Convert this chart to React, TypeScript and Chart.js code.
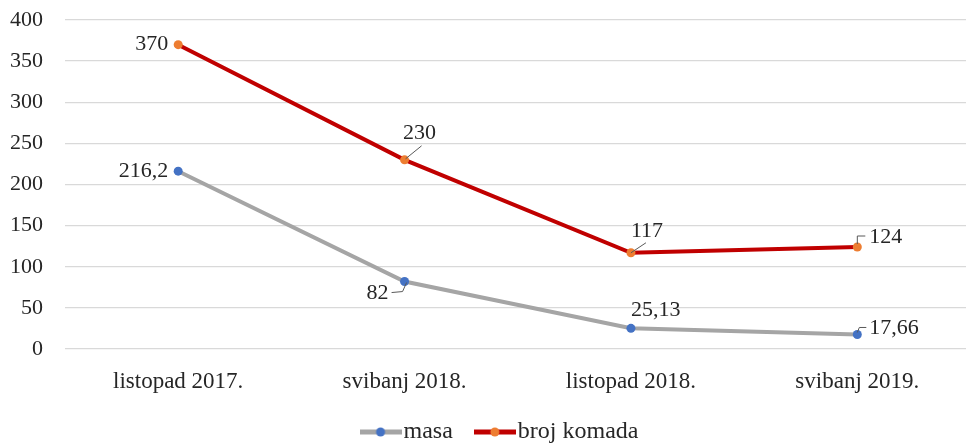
import React, { useEffect, useRef } from 'react';
import { Chart, registerables } from 'chart.js';

Chart.register(...registerables);

const categories = ['listopad 2017.', 'svibanj 2018.', 'listopad 2018.', 'svibanj 2019.'];
const masa = [216.2, 82, 25.13, 17.66];
const brojKomada = [370, 230, 117, 124];
const seriesNames = ['masa', 'broj komada'];
const yMin = 0;
const yMax = 400;
const yStep = 50;

const lineColors = ['#A5A5A5', '#C00000'];
const pointColors = ['#4472C4', '#ED7D31'];

const FONT = "'Liberation Serif', 'Times New Roman', serif";

type Placement = { dx: number; dy: number; align: CanvasTextAlign; leader?: [number, number][] };

const placements: Placement[][] = [
  [
    { dx: -10, dy: 0, align: 'right' },
    { dx: -16, dy: 12, align: 'right', leader: [[2, 1], [-2, 10], [-13, 11]] },
    { dx: 0, dy: -18, align: 'left' },
    { dx: 12, dy: -6, align: 'left', leader: [[0, -2], [2, -7], [9, -7]] },
  ],
  [
    { dx: -10, dy: 0, align: 'right' },
    { dx: 15, dy: -27, align: 'center', leader: [[1, -1], [17, -14]] },
    { dx: 0, dy: -22, align: 'left', leader: [[0, 0], [15, -10]] },
    { dx: 12, dy: -10, align: 'left', leader: [[0, -3], [0, -11], [8, -11]] },
  ],
];

const fmt = (v: number) => String(v).replace('.', ',');

function makeLegendImage(line: string, point: string): HTMLCanvasElement {
  const c = document.createElement('canvas');
  c.width = 42;
  c.height = 12;
  const ctx = c.getContext('2d')!;
  ctx.strokeStyle = line;
  ctx.lineWidth = 5;
  ctx.beginPath();
  ctx.moveTo(0, 6);
  ctx.lineTo(42, 6);
  ctx.stroke();
  ctx.fillStyle = point;
  ctx.beginPath();
  ctx.arc(21, 6, 4.5, 0, Math.PI * 2);
  ctx.fill();
  return c;
}

const dataLabelPlugin = {
  id: 'dataLabels',
  afterLayout(chart: any) {
    const lg = chart.legend;
    if (lg) {
      lg.left += 17;
      lg.right += 17;
      lg.top -= 7;
      lg.bottom -= 7;
    }
  },
  afterDatasetsDraw(chart: any) {
    const ctx: CanvasRenderingContext2D = chart.ctx;
    ctx.save();
    ctx.font = `22px ${FONT}`;
    ctx.textBaseline = 'middle';
    chart.data.datasets.forEach((ds: any, di: number) => {
      const meta = chart.getDatasetMeta(di);
      meta.data.forEach((pt: any, i: number) => {
        const p = placements[di][i];
        if (p.leader) {
          ctx.strokeStyle = '#595959';
          ctx.lineWidth = 1;
          ctx.beginPath();
          p.leader.forEach(([lx, ly], k) => {
            if (k === 0) ctx.moveTo(pt.x + lx, pt.y + ly);
            else ctx.lineTo(pt.x + lx, pt.y + ly);
          });
          ctx.stroke();
        }
        ctx.fillStyle = '#262626';
        ctx.textAlign = p.align;
        ctx.fillText(fmt(ds.data[i]), pt.x + p.dx, pt.y + p.dy);
      });
    });
    ctx.restore();
  },
};

export default function App() {
  const ref = useRef<HTMLCanvasElement | null>(null);

  useEffect(() => {
    if (!ref.current) return;
    const legendImgs = [
      makeLegendImage(lineColors[0], pointColors[0]),
      makeLegendImage(lineColors[1], pointColors[1]),
    ];
    const chart = new Chart(ref.current, {
      type: 'line',
      data: {
        labels: categories,
        datasets: [
          {
            label: seriesNames[0],
            data: masa,
            borderColor: lineColors[0],
            backgroundColor: pointColors[0],
            pointBackgroundColor: pointColors[0],
            pointBorderColor: pointColors[0],
            borderWidth: 4,
            pointRadius: 4.5,
            pointBorderWidth: 0,
            tension: 0,
          },
          {
            label: seriesNames[1],
            data: brojKomada,
            borderColor: lineColors[1],
            backgroundColor: pointColors[1],
            pointBackgroundColor: pointColors[1],
            pointBorderColor: pointColors[1],
            borderWidth: 4,
            pointRadius: 4.5,
            pointBorderWidth: 0,
            tension: 0,
          },
        ],
      },
      options: {
        responsive: false,
        animation: false,
        layout: { padding: { top: 20, left: 0, right: 1, bottom: 0 } },
        scales: {
          x: {
            type: 'category',
            offset: true,
            grid: { display: false, drawTicks: false },
            border: { display: false },
            ticks: {
              padding: 19,
              color: '#262626',
              font: { family: FONT, size: 23 },
              maxRotation: 0,
            },
            afterFit: (s: any) => {
              s.height = 47;
            },
          },
          y: {
            min: yMin,
            max: yMax,
            border: { display: false },
            grid: {
              color: '#D9D9D9',
              lineWidth: 1.3,
              drawTicks: true,
              tickLength: 20,
              tickColor: 'rgba(0,0,0,0)',
            },
            ticks: {
              stepSize: yStep,
              padding: 2,
              color: '#262626',
              font: { family: FONT, size: 22 },
            },
            afterFit: (s: any) => {
              s.width = 65;
            },
          },
        },
        plugins: {
          tooltip: { enabled: false },
          legend: {
            position: 'bottom',
            labels: {
              usePointStyle: true,
              pointStyleWidth: 22,
              padding: 31,
              color: '#262626',
              font: { family: FONT, size: 24 },
              generateLabels: (c: any) =>
                Chart.defaults.plugins.legend.labels
                  .generateLabels(c)
                  .map((item: any, i: number) => ({ ...item, pointStyle: legendImgs[i] })),
            },
          },
        },
      } as any,
      plugins: [dataLabelPlugin],
    });
    return () => chart.destroy();
  }, []);

  return (
    <div
      style={{
        position: 'absolute',
        left: 0,
        top: 0,
        width: 966,
        height: 444,
        overflow: 'hidden',
        background: '#fff',
      }}
    >
      <canvas ref={ref} width={975} height={461} style={{ display: 'block', width: 975, height: 461 }} />
    </div>
  );
}
